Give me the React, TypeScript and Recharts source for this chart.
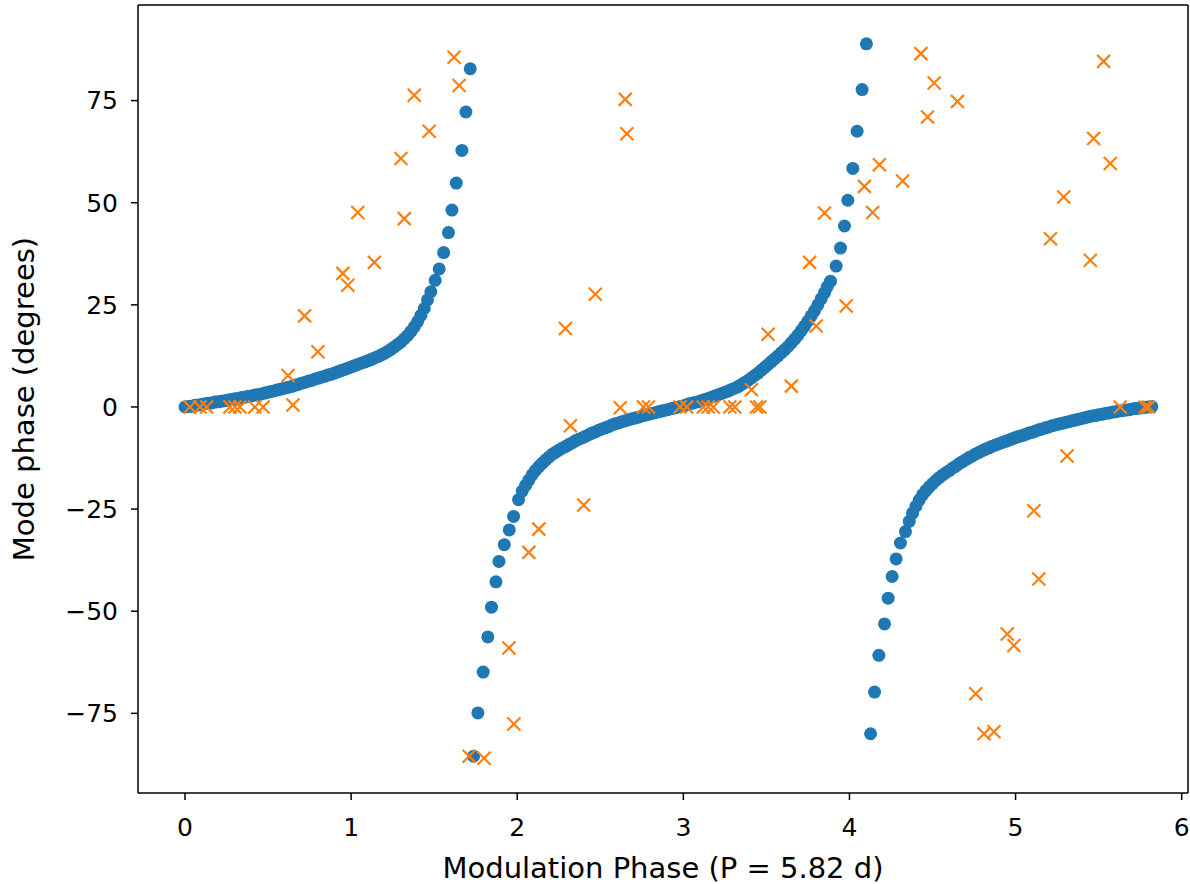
import React from 'react';
import {
    ReferenceLine,
    Scatter,
    ScatterChart,
    XAxis,
    YAxis
} from 'recharts';

// modulation phase (d) vs mode phase (deg), model curve in three branches
const modelBranchA: [number, number][] = [
    [0, 0], [0.02, 0.1], [0.04, 0.2], [0.06, 0.4], [0.08, 0.5], [0.1, 0.6], [0.12, 0.8], [0.14, 0.9],
    [0.16, 1.0], [0.18, 1.2], [0.2, 1.3], [0.22, 1.4], [0.24, 1.5], [0.26, 1.7], [0.28, 1.8], [0.3, 2.0],
    [0.32, 2.1], [0.34, 2.3], [0.36, 2.4], [0.38, 2.6], [0.4, 2.7], [0.42, 2.9], [0.44, 3.0], [0.46, 3.2],
    [0.48, 3.4], [0.5, 3.6], [0.52, 3.8], [0.54, 4.0], [0.56, 4.2], [0.58, 4.4], [0.6, 4.6], [0.62, 4.8],
    [0.64, 5.0], [0.66, 5.3], [0.68, 5.5], [0.7, 5.8], [0.72, 6.0], [0.74, 6.3], [0.76, 6.5], [0.78, 6.8],
    [0.8, 7.0], [0.82, 7.3], [0.84, 7.5], [0.86, 7.8], [0.88, 8.0], [0.9, 8.3], [0.92, 8.6], [0.94, 8.9],
    [0.96, 9.2], [0.98, 9.5], [1.0, 9.8], [1.02, 10.1], [1.04, 10.4], [1.06, 10.7], [1.08, 11.0], [1.1, 11.3],
    [1.12, 11.6], [1.14, 12.0], [1.16, 12.3], [1.18, 12.7], [1.2, 13.1], [1.22, 13.6], [1.24, 14.1],
    [1.26, 14.7], [1.28, 15.3], [1.3, 15.9], [1.32, 16.7], [1.34, 17.5], [1.36, 18.5], [1.38, 19.6],
    [1.4, 20.9], [1.42, 22.4], [1.44, 24.1], [1.46, 26.2], [1.48, 28.2], [1.506, 31.0], [1.53, 33.8],
    [1.557, 37.8], [1.586, 42.7], [1.607, 48.2], [1.633, 54.8], [1.667, 62.8], [1.691, 72.2], [1.717, 82.8]
];

const modelBranchB: [number, number][] = [
    [1.737, -85.5], [1.763, -74.9], [1.795, -64.9], [1.823, -56.3], [1.845, -49.0], [1.872, -42.8],
    [1.89, -37.8], [1.922, -33.7], [1.952, -30.1], [1.978, -26.8], [2.008, -22.7], [2.03, -20.6],
    [2.05, -19.2], [2.07, -17.9], [2.09, -16.6], [2.11, -15.5], [2.13, -14.6], [2.15, -13.8], [2.17, -13.0],
    [2.19, -12.3], [2.21, -11.6], [2.23, -11.1], [2.25, -10.6], [2.27, -10.1], [2.29, -9.7], [2.31, -9.2],
    [2.33, -8.8], [2.35, -8.3], [2.37, -7.9], [2.39, -7.6], [2.41, -7.2], [2.43, -6.8], [2.45, -6.4],
    [2.47, -6.1], [2.49, -5.7], [2.51, -5.4], [2.53, -5.1], [2.55, -4.8], [2.57, -4.4], [2.59, -4.1],
    [2.61, -3.9], [2.63, -3.6], [2.65, -3.4], [2.67, -3.1], [2.69, -2.9], [2.71, -2.7], [2.73, -2.5],
    [2.75, -2.2], [2.77, -2.0], [2.79, -1.8], [2.81, -1.6], [2.83, -1.4], [2.85, -1.2], [2.87, -1.0],
    [2.89, -0.8], [2.91, -0.6], [2.93, -0.4], [2.95, -0.2], [2.97, 0.0], [2.99, 0.2], [3.01, 0.4],
    [3.03, 0.7], [3.05, 0.9], [3.07, 1.1], [3.09, 1.3], [3.11, 1.6], [3.13, 1.8], [3.15, 2.1], [3.17, 2.4],
    [3.19, 2.7], [3.21, 3.0], [3.23, 3.3], [3.25, 3.6], [3.27, 3.9], [3.29, 4.3], [3.31, 4.6], [3.33, 5.0],
    [3.35, 5.5], [3.37, 6.0], [3.39, 6.5], [3.41, 7.1], [3.43, 7.7], [3.45, 8.3], [3.47, 9.0], [3.49, 9.7],
    [3.51, 10.4], [3.53, 11.1], [3.55, 11.8], [3.57, 12.5], [3.59, 13.3], [3.61, 14.0], [3.63, 14.8],
    [3.65, 15.7], [3.67, 16.6], [3.69, 17.6], [3.71, 18.7], [3.73, 19.8], [3.75, 21.0], [3.77, 22.3],
    [3.79, 23.6], [3.81, 25.0], [3.83, 26.5], [3.85, 28.0], [3.866, 29.4], [3.886, 30.8], [3.92, 34.5],
    [3.946, 38.9], [3.97, 44.3], [3.99, 50.6], [4.02, 58.4], [4.046, 67.5], [4.076, 77.7], [4.102, 88.9]
];

const modelBranchC: [number, number][] = [
    [4.127, -80.0], [4.151, -69.8], [4.177, -60.8], [4.211, -53.1], [4.233, -46.8], [4.257, -41.5],
    [4.281, -37.2], [4.307, -33.3], [4.337, -30.5], [4.36, -28.0], [4.38, -26.0], [4.4, -24.3],
    [4.42, -22.8], [4.44, -21.5], [4.46, -20.5], [4.48, -19.6], [4.5, -18.8], [4.52, -18.0], [4.54, -17.3],
    [4.56, -16.7], [4.58, -16.1], [4.6, -15.6], [4.62, -15.0], [4.64, -14.5], [4.66, -13.9], [4.68, -13.4],
    [4.7, -12.9], [4.72, -12.4], [4.74, -12.0], [4.76, -11.5], [4.78, -11.1], [4.8, -10.7], [4.82, -10.3],
    [4.84, -10.0], [4.86, -9.6], [4.88, -9.3], [4.9, -9.0], [4.92, -8.7], [4.94, -8.4], [4.96, -8.1],
    [4.98, -7.8], [5.0, -7.5], [5.02, -7.2], [5.04, -7.0], [5.06, -6.7], [5.08, -6.4], [5.1, -6.2],
    [5.12, -5.9], [5.14, -5.6], [5.16, -5.4], [5.18, -5.1], [5.2, -4.9], [5.22, -4.6], [5.24, -4.4],
    [5.26, -4.2], [5.28, -4.0], [5.3, -3.8], [5.32, -3.6], [5.34, -3.4], [5.36, -3.2], [5.38, -3.0],
    [5.4, -2.8], [5.42, -2.6], [5.44, -2.4], [5.46, -2.2], [5.48, -2.1], [5.5, -1.9], [5.52, -1.8],
    [5.54, -1.6], [5.56, -1.5], [5.58, -1.3], [5.6, -1.2], [5.62, -1.0], [5.64, -0.9], [5.66, -0.8],
    [5.68, -0.7], [5.7, -0.5], [5.72, -0.4], [5.74, -0.3], [5.76, -0.2], [5.78, -0.1], [5.8, 0.0], [5.82, 0.1]
];

// measured phases
const measured: [number, number][] = [
    [0.03, 0], [0.09, 0], [0.13, 0], [0.27, 0], [0.3, 0], [0.33, 0], [0.42, 0], [0.47, 0],
    [0.65, 0.5], [0.62, 7.7], [0.72, 22.3], [0.8, 13.5], [0.95, 32.7], [0.98, 29.8], [1.04, 47.6],
    [1.14, 35.4], [1.3, 60.8], [1.32, 46.1], [1.38, 76.3], [1.47, 67.5], [1.62, 85.6], [1.65, 78.7],
    [1.71, -85.5], [1.8, -86.0], [1.95, -59.0], [1.98, -77.6], [2.07, -35.6], [2.13, -29.9],
    [2.29, 19.2], [2.32, -4.6], [2.4, -24.0], [2.47, 27.6], [2.62, -0.2], [2.65, 75.3], [2.66, 66.9],
    [2.76, 0], [2.79, 0], [2.98, 0], [3.02, 0], [3.12, 0], [3.15, 0], [3.18, 0], [3.28, 0], [3.31, 0],
    [3.41, 4.2], [3.44, 0], [3.46, 0], [3.51, 17.8], [3.65, 5.1], [3.76, 35.4], [3.8, 19.8], [3.85, 47.5],
    [3.98, 24.7], [4.09, 54.0], [4.14, 47.6], [4.18, 59.3], [4.32, 55.3], [4.43, 86.5], [4.47, 71.0],
    [4.51, 79.3], [4.65, 74.8], [4.76, -70.2], [4.81, -80.0], [4.87, -79.5], [4.95, -55.6], [4.99, -58.4],
    [5.11, -25.4], [5.14, -42.1], [5.21, 41.2], [5.29, 51.4], [5.31, -12.0], [5.45, 35.9], [5.47, 65.7],
    [5.53, 84.6], [5.57, 59.6], [5.63, 0], [5.78, 0], [5.8, 0]
];

const xTicks = [0, 1, 2, 3, 4, 5, 6];
const yTicks = [-75, -50, -25, 0, 25, 50, 75];

const X_DOMAIN: [number, number] = [-0.283, 6.038];
const Y_DOMAIN: [number, number] = [-94.5, 98.4];

const toPoints = (rows: [number, number][]) => rows.map(([x, y]) => ({ x, y }));
const modelPoints = toPoints([...modelBranchA, ...modelBranchB, ...modelBranchC]);
const measuredPoints = toPoints(measured);

const font = 'DejaVu Sans, sans-serif';
const tickStyle = { fill: '#000', fontSize: 25, fontFamily: font };
const fmt = (v: number) => (v < 0 ? '\u2212' + Math.abs(v) : String(v));

const Dot = (props: any) => <circle cx={props.cx} cy={props.cy} r={6.5} fill="#1f77b4" />;

const Cross = (props: any) => {
    const { cx, cy } = props;
    const s = 6.5;
    return (
        <path
            d={`M${cx - s},${cy - s}L${cx + s},${cy + s}M${cx - s},${cy + s}L${cx + s},${cy - s}`}
            stroke="#ff7f0e"
            strokeWidth={2.2}
            fill="none"
        />
    );
};

const App: React.FC = () => {
    return (
        <div style={{ position: 'absolute', left: 0, top: 0, background: '#fff' }}>
            <ScatterChart width={1190} height={884} margin={{ top: 5, right: 2, bottom: 0, left: 0 }}>
                <XAxis
                    type="number"
                    dataKey="x"
                    domain={X_DOMAIN}
                    ticks={xTicks}
                    tickFormatter={fmt}
                    height={91}
                    tick={tickStyle}
                    tickSize={7}
                    tickMargin={18}
                    axisLine={{ stroke: '#000', strokeWidth: 1.5 }}
                    tickLine={{ stroke: '#000', strokeWidth: 1.5 }}
                    label={{
                        value: 'Modulation Phase (P = 5.82 d)',
                        position: 'insideBottom',
                        offset: 6,
                        fill: '#000',
                        fontSize: 29,
                        fontFamily: font
                    }}
                />
                <YAxis
                    type="number"
                    dataKey="y"
                    domain={Y_DOMAIN}
                    ticks={yTicks}
                    tickFormatter={fmt}
                    width={138}
                    tick={tickStyle}
                    tickSize={7}
                    tickMargin={13}
                    axisLine={{ stroke: '#000', strokeWidth: 1.5 }}
                    tickLine={{ stroke: '#000', strokeWidth: 1.5 }}
                    label={{
                        value: 'Mode phase (degrees)',
                        angle: -90,
                        position: 'insideLeft',
                        offset: 24,
                        fill: '#000',
                        fontSize: 29,
                        fontFamily: font,
                        style: { textAnchor: 'middle' }
                    }}
                />
                <ReferenceLine y={Y_DOMAIN[1]} stroke="#000" strokeWidth={1.5} />
                <ReferenceLine x={X_DOMAIN[1]} stroke="#000" strokeWidth={1.5} />
                <Scatter data={modelPoints} shape={Dot} isAnimationActive={false} />
                <Scatter data={measuredPoints} shape={Cross} isAnimationActive={false} />
            </ScatterChart>
        </div>
    );
};

export default App;
